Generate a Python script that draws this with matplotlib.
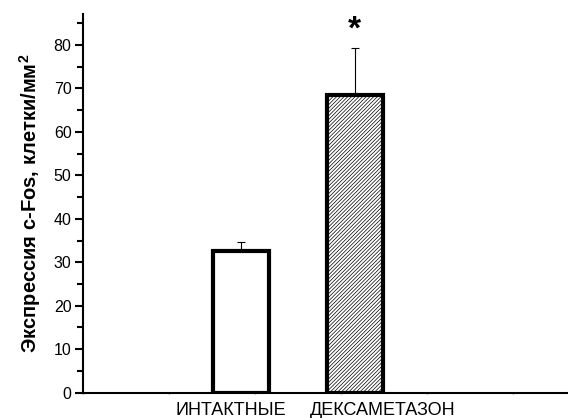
import numpy as np
import matplotlib.pyplot as plt
from matplotlib.ticker import MultipleLocator

plt.rcParams['font.family'] = ['Liberation Sans', 'DejaVu Sans']
plt.rcParams['mathtext.fontset'] = 'custom'
plt.rcParams['mathtext.bf'] = 'Liberation Sans:bold'
plt.rcParams['mathtext.rm'] = 'Liberation Sans:bold'
plt.rcParams['hatch.linewidth'] = 0.5

# group means and standard errors (cells per mm^2)
groups = ['ИНТАКТНЫЕ', 'ДЕКСАМЕТАЗОН']
means = [32.5, 68.5]
errors = [2.2, 10.7]
hatches = ['', '/////////']
signif = ['', '*']

bar_pos = [1.84, 3.16]
label_pos = [1.72, 3.49]
bar_width = 0.65

fig = plt.figure(figsize=(5.68, 4.18), dpi=100)
ax = fig.add_axes([0.1456, 0.0605, 0.8544, 0.906])

for x, m, e, h in zip(bar_pos, means, errors, hatches):
    ax.bar(x, m, width=bar_width, facecolor='white', edgecolor='black',
           linewidth=3, hatch=h, zorder=2)
    ax.errorbar(x, m, yerr=[[0], [e]], fmt='none', ecolor='black',
                elinewidth=0.8, capsize=3, capthick=0.8, zorder=1)

for x, m, e, s in zip(bar_pos, means, errors, signif):
    if s:
        ax.text(x, m + e + 4.3, s, ha='center', va='center',
                fontsize=24, fontweight='bold')

ax.set_xlim(0, 5.64)
ax.set_ylim(0, 87.1)

ax.spines['top'].set_visible(False)
ax.spines['right'].set_visible(False)
ax.spines['left'].set_linewidth(1.5)
ax.spines['bottom'].set_linewidth(1.5)

ax.yaxis.set_major_locator(MultipleLocator(10))
ax.yaxis.set_minor_locator(MultipleLocator(5))
ax.tick_params(axis='y', which='major', length=6, width=1.5, labelsize=11.5, pad=2)
ax.tick_params(axis='y', which='minor', length=4, width=1.5)

ax.set_xticks(label_pos)
ax.set_xticklabels(groups)
ax.xaxis.set_minor_locator(MultipleLocator(1))
ax.tick_params(axis='x', which='major', length=0, labelsize=13, pad=7)
ax.tick_params(axis='x', which='minor', length=2, width=1, direction='inout',
               color='#888888')

ax.set_ylabel(r'Экспрессия c-Fos, клетки/мм$^\mathbf{2}$', fontsize=14.5,
              fontweight='bold', labelpad=8)

fig.savefig('out.png', dpi=100)
